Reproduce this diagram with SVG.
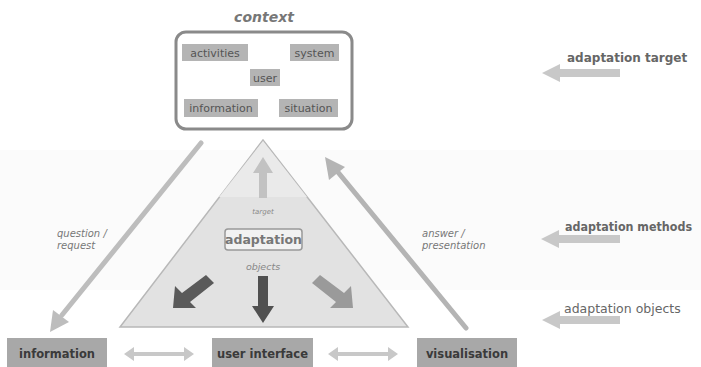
<svg xmlns="http://www.w3.org/2000/svg" width="701" height="367" viewBox="0 0 701 367">
  <style>
    text { font-family: "DejaVu Sans", "Liberation Sans", sans-serif; }
    .ctx { font-size: 11px; fill: #555; text-anchor: middle; }
    .ctxbox { fill: #b4b4b4; }
    .note { font-size: 10px; font-style: italic; fill: #777; }
    .obj { fill: #a8a8a8; }
    .objtxt { font-size: 11.5px; font-weight: bold; fill: #3a3a3a; text-anchor: middle; }
    .side { font-size: 12px; font-weight: bold; fill: #666; }
    .pale { fill: #c8c8c8; }
  </style>

  <!-- background band for the methods level -->
  <rect x="0" y="150" width="701" height="140" fill="#fbfbfb"/>

  <!-- context -->
  <g id="context">
    <text x="264" y="22" font-size="14" font-weight="bold" font-style="italic" fill="#777" text-anchor="middle">context</text>
    <rect x="176" y="32" width="176" height="97" rx="10" fill="#fff" stroke="#8a8a8a" stroke-width="3"/>
    <rect class="ctxbox" x="182" y="44" width="66" height="17"/>
    <text class="ctx" x="215" y="57">activities</text>
    <rect class="ctxbox" x="290" y="44" width="49" height="17"/>
    <text class="ctx" x="314.5" y="57">system</text>
    <rect class="ctxbox" x="250" y="69" width="30" height="17"/>
    <text class="ctx" x="265" y="82">user</text>
    <rect class="ctxbox" x="184" y="99" width="74" height="18"/>
    <text class="ctx" x="221" y="112">information</text>
    <rect class="ctxbox" x="279" y="99" width="59" height="18"/>
    <text class="ctx" x="308.5" y="112">situation</text>
  </g>

  <!-- adaptation triangle -->
  <g id="adaptation">
    <polygon points="263,140 120,327 408,327" fill="#e2e2e2" stroke="#b8b8b8" stroke-width="1.5"/>
    <polygon points="263,141 219,197 307,197" fill="#eaeaea"/>
    <!-- target arrow -->
    <polygon points="259,198 259,173 253,173 263,157 273,173 267,173 267,198" fill="#c2c2c2"/>
    <text x="263" y="214" font-size="7" font-style="italic" fill="#888" text-anchor="middle">target</text>
    <rect x="225" y="229" width="77" height="21" rx="3" fill="#f2f2f2" stroke="#999" stroke-width="1.5"/>
    <text x="263.5" y="244" font-size="12.5" font-weight="bold" fill="#777" text-anchor="middle">adaptation</text>
    <text x="263" y="270" font-size="9.5" font-style="italic" fill="#888" text-anchor="middle">objects</text>
    <!-- object arrows -->
    <polygon points="206,275 214,283 190,302 196,308 173,308 175,286 182,293" fill="#5a5a5a"/>
    <polygon points="258,276 268,276 268,306 274,306 263,323 252,306 258,306" fill="#505050"/>
    <polygon points="320,275 312,283 336,302 330,308 353,308 351,286 344,293" fill="#9a9a9a"/>
  </g>

  <!-- adaptation objects -->
  <g id="information">
    <rect class="obj" x="7" y="338" width="100" height="29"/>
    <text class="objtxt" x="57" y="358">information</text>
  </g>
  <g id="user-interface">
    <rect class="obj" x="212" y="338" width="101" height="29"/>
    <text class="objtxt" x="262.5" y="358">user interface</text>
  </g>
  <g id="visualisation">
    <rect class="obj" x="417" y="338" width="100" height="29"/>
    <text class="objtxt" x="467" y="358">visualisation</text>
  </g>

  <!-- connectors -->
  <g id="connectors">
    <!-- question / request -->
    <line x1="201" y1="143" x2="62" y2="315" stroke="#bdbdbd" stroke-width="5" stroke-linecap="round"/>
    <polygon points="53,310 69,322 50,332" fill="#bdbdbd"/>
    <!-- answer / presentation -->
    <line x1="466" y1="328" x2="337" y2="171" stroke="#b4b4b4" stroke-width="5" stroke-linecap="round"/>
    <polygon points="325,157 345,167 329,180" fill="#b4b4b4"/>
    <!-- object links -->
    <polygon points="124,354 134,347 134,352 184,352 184,347 194,354 184,361 184,356 134,356 134,361" class="pale"/>
    <polygon points="328,354 338,347 338,352 388,352 388,347 398,354 388,361 388,356 338,356 338,361" class="pale"/>
  </g>

  <text class="note" x="57" y="237">question /</text>
  <text class="note" x="57" y="249">request</text>
  <text class="note" x="422" y="237">answer /</text>
  <text class="note" x="422" y="249">presentation</text>

  <!-- level legend -->
  <g id="legend">
    <text class="side" x="567" y="62" font-size="11.5">adaptation target</text>
    <polygon points="542,73 560,64 560,69 620,69 620,77 560,77 560,82" class="pale"/>
    <text class="side" x="565" y="231" font-size="11.5" textLength="127" lengthAdjust="spacingAndGlyphs">adaptation methods</text>
    <polygon points="541,239 559,230 559,235 620,235 620,243 559,243 559,248" class="pale"/>
    <text x="564" y="313" font-size="12.5" fill="#666">adaptation objects</text>
    <polygon points="542,320 560,311 560,316 620,316 620,324 560,324 560,329" class="pale"/>
  </g>
</svg>
